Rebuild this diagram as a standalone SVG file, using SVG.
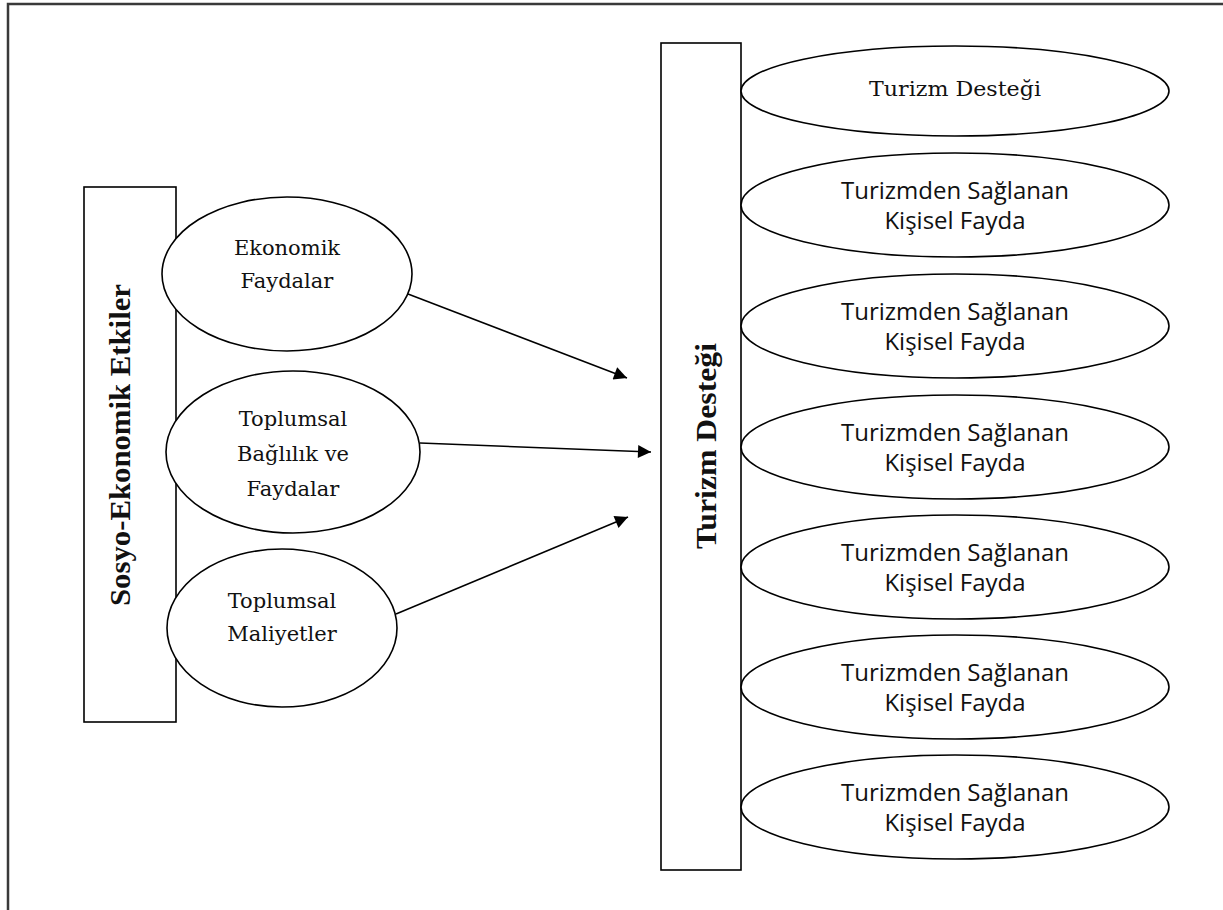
<svg xmlns="http://www.w3.org/2000/svg" width="1223" height="910" viewBox="0 0 1223 910">
<style>
.frame{fill:none;stroke:#3a3a3a;stroke-width:2.5}
.box{fill:#fff;stroke:#000;stroke-width:1.6}
.ell{fill:#fff;stroke:#000;stroke-width:1.6}
.serif{font-family:"DejaVu Serif","Liberation Serif",serif;font-size:21px;fill:#111;text-anchor:middle}
.vert{font-family:"Liberation Serif",serif;font-size:30px;font-weight:bold;fill:#111;text-anchor:middle}
.sans{font-family:"Open Sans","Liberation Sans",sans-serif;font-size:24px;fill:#111;text-anchor:middle}
.conn{stroke:#000;stroke-width:1.5;fill:none;marker-end:url(#ah)}
</style>
<defs>
<marker id="ah" viewBox="0 0 10 10" refX="10" refY="5" markerUnits="userSpaceOnUse" markerWidth="17" markerHeight="13" orient="auto">
<path d="M0,0 L10,5 L0,10 z" fill="#000"/>
</marker>
</defs>
<rect width="1223" height="910" fill="#fff"/>
<path class="frame" d="M8,910 L8,4 L1223,4"/>

<g id="sosyo">
<rect class="box" x="84" y="187" width="92" height="535"/>
<text class="vert" transform="translate(130,445) rotate(-90)" textLength="322" lengthAdjust="spacingAndGlyphs">Sosyo-Ekonomik Etkiler</text>
</g>

<g id="ekonomik">
<ellipse class="ell" cx="287" cy="274" rx="125" ry="77"/>
<text class="serif" x="287" y="255">Ekonomik</text>
<text class="serif" x="287" y="288">Faydalar</text>
</g>
<g id="baglilik">
<ellipse class="ell" cx="293" cy="452" rx="127" ry="81"/>
<text class="serif" x="293" y="426">Toplumsal</text>
<text class="serif" x="293" y="461">Bağlılık ve</text>
<text class="serif" x="293" y="496">Faydalar</text>
</g>
<g id="maliyetler">
<ellipse class="ell" cx="282" cy="628" rx="115" ry="79"/>
<text class="serif" x="282" y="608">Toplumsal</text>
<text class="serif" x="282" y="641">Maliyetler</text>
</g>

<g id="turizm-destegi-box">
<rect class="box" x="661" y="43" width="80" height="827"/>
<text class="vert" transform="translate(716,446) rotate(-90)" textLength="206" lengthAdjust="spacingAndGlyphs">Turizm Desteği</text>
</g>

<g id="r1">
<ellipse class="ell" cx="955" cy="91" rx="214" ry="45"/>
<text class="serif" x="955" y="96" textLength="172" lengthAdjust="spacingAndGlyphs">Turizm Desteği</text>
</g>
<g id="r2">
<ellipse class="ell" cx="955" cy="205" rx="214" ry="52"/>
<text class="sans" x="955" y="199">Turizmden Sağlanan</text>
<text class="sans" x="955" y="229">Kişisel Fayda</text>
</g>
<g id="r3">
<ellipse class="ell" cx="955" cy="326" rx="214" ry="52"/>
<text class="sans" x="955" y="320">Turizmden Sağlanan</text>
<text class="sans" x="955" y="350">Kişisel Fayda</text>
</g>
<g id="r4">
<ellipse class="ell" cx="955" cy="447" rx="214" ry="52"/>
<text class="sans" x="955" y="441">Turizmden Sağlanan</text>
<text class="sans" x="955" y="471">Kişisel Fayda</text>
</g>
<g id="r5">
<ellipse class="ell" cx="955" cy="567" rx="214" ry="52"/>
<text class="sans" x="955" y="561">Turizmden Sağlanan</text>
<text class="sans" x="955" y="591">Kişisel Fayda</text>
</g>
<g id="r6">
<ellipse class="ell" cx="955" cy="687" rx="214" ry="52"/>
<text class="sans" x="955" y="681">Turizmden Sağlanan</text>
<text class="sans" x="955" y="711">Kişisel Fayda</text>
</g>
<g id="r7">
<ellipse class="ell" cx="955" cy="807" rx="214" ry="52"/>
<text class="sans" x="955" y="801">Turizmden Sağlanan</text>
<text class="sans" x="955" y="831">Kişisel Fayda</text>
</g>

<g id="connectors">
<line class="conn" x1="408" y1="294" x2="627" y2="378"/>
<line class="conn" x1="420" y1="443" x2="651" y2="452"/>
<line class="conn" x1="396" y1="614" x2="628" y2="517"/>
</g>
</svg>
